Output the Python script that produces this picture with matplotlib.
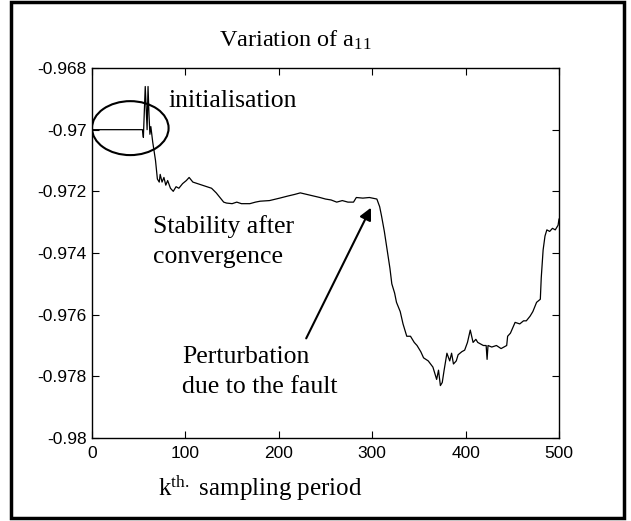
import matplotlib
matplotlib.use("Agg")
import matplotlib.pyplot as plt
from matplotlib.patches import Ellipse, Rectangle

k = [0, 54, 55, 57, 58, 59, 60, 61, 62, 63, 65, 68, 70, 72, 73, 75, 77, 79, 81, 84,
     87, 90, 93, 97, 101, 104, 108, 113, 118, 123, 128, 133, 137, 141, 144, 150, 155,
     160, 169, 175, 180, 190, 201, 210, 217, 223, 230, 237, 244, 250, 256, 262, 268,
     274, 280, 283, 290, 297, 305, 308, 310, 313, 316, 319, 321, 324, 326, 330, 333,
     337, 341, 345, 348, 352, 355, 360, 365, 369, 371, 373, 375, 377, 380, 383, 385,
     387, 390, 392, 396, 399, 402, 405, 408, 411, 413, 416, 419, 422, 423, 424, 428,
     433, 438, 444, 445, 448, 453, 458, 462, 465, 469, 472, 476, 480, 481, 483, 485,
     487, 490, 493, 496, 499, 500]
a11 = [-0.9700, -0.9700, -0.97025, -0.9686, -0.9693, -0.9700, -0.9686, -0.9695, -0.97015,
       -0.9699, -0.9704, -0.9710, -0.9716, -0.9717, -0.97145, -0.9717, -0.97155, -0.9718,
       -0.97165, -0.9719, -0.9720, -0.97185, -0.9719, -0.97175, -0.97165, -0.97155,
       -0.9717, -0.97175, -0.9718, -0.97185, -0.9719, -0.97205, -0.9722, -0.97235,
       -0.97238, -0.9724, -0.97235, -0.9724, -0.9724, -0.97235, -0.97232, -0.9723,
       -0.97222, -0.97215, -0.9721, -0.97205, -0.9721, -0.97215, -0.9722, -0.97225,
       -0.97228, -0.97235, -0.9723, -0.97235, -0.97235, -0.9722, -0.97222, -0.9722,
       -0.97225, -0.9725, -0.9728, -0.9733, -0.9739, -0.9745, -0.9750, -0.9753, -0.9756,
       -0.9759, -0.9763, -0.9767, -0.9767, -0.9769, -0.9770, -0.9772, -0.9774, -0.9775,
       -0.9777, -0.9781, -0.9778, -0.9783, -0.9782, -0.9778, -0.97725, -0.9775, -0.97725,
       -0.9776, -0.9775, -0.9773, -0.9772, -0.97715, -0.9769, -0.9765, -0.9769, -0.9768,
       -0.9769, -0.97695, -0.9770, -0.9770, -0.97745, -0.9770, -0.97705, -0.9770, -0.9771,
       -0.9770, -0.9767, -0.9766, -0.97625, -0.9763, -0.9762, -0.9762, -0.97605, -0.9759,
       -0.9756, -0.9755, -0.9748, -0.9739, -0.97345, -0.97325, -0.9733, -0.9732, -0.97325,
       -0.9731, -0.9729]

xticks = [0, 100, 200, 300, 400, 500]
yticks = [-0.98, -0.978, -0.976, -0.974, -0.972, -0.97, -0.968]
ytick_labels = ["-0.98", "-0.978", "-0.976", "-0.974", "-0.972", "-0.97", "-0.968"]

serif = "Liberation Serif"
sans = "Liberation Sans"

fig = plt.figure(figsize=(6.31, 5.21), dpi=100)
ax = fig.add_axes([92/631, 1-438/521, (559-92)/631, (438-68)/521])

ax.plot(k, a11, color="black", lw=0.9)
ax.set_xlim(0, 500)
ax.set_ylim(-0.98, -0.968)
ax.set_xticks(xticks)
ax.set_xticklabels([str(t) for t in xticks], fontfamily=sans, fontsize=12.5)
ax.set_yticks(yticks)
ax.set_yticklabels(ytick_labels, fontfamily=sans, fontsize=12.5)
ax.tick_params(direction="in", top=True, right=True, length=5, width=0.8)
ax.tick_params(axis="y", pad=4)
ax.tick_params(axis="x", pad=6)
for s in ax.spines.values():
    s.set_linewidth(1.0)

fig.text(295/631, 1-40/521, "Variation of a$\\mathregular{_{11}}$", fontfamily=serif,
         fontsize=17.5, ha="center", va="center")
fig.text(260/631, 1-488/521, "k$\\mathregular{^{th.}}$ sampling period", fontfamily=serif,
         fontsize=18, ha="center", va="center")

ax.add_patch(Ellipse((41, -0.96995), 82, 0.00175, fill=False, lw=1.5, color="black"))
fs = 18.5
ax.text(82.4, -0.969265, "initialisation", fontfamily=serif, fontsize=fs, va="baseline", ha="left")
ax.text(65.3, -0.973351, "Stability after", fontfamily=serif, fontsize=fs, va="baseline", ha="left")
ax.text(65.3, -0.974324, "convergence", fontfamily=serif, fontsize=fs, va="baseline", ha="left")
ax.text(96.4, -0.977568, "Perturbation", fontfamily=serif, fontsize=fs, va="baseline", ha="left")
ax.text(96.4, -0.978541, "due to the fault", fontfamily=serif, fontsize=fs, va="baseline", ha="left")
ax.annotate("", xy=(300, -0.97245), xytext=(228, -0.97685),
            arrowprops=dict(arrowstyle="-|>", color="black", lw=1.5, mutation_scale=18))

fig.patches.append(Rectangle((11/631, 1-518/521), 613/631, 516/521, transform=fig.transFigure,
                             fill=False, lw=2.5, edgecolor="black"))

fig.savefig("out.png", dpi=100)
